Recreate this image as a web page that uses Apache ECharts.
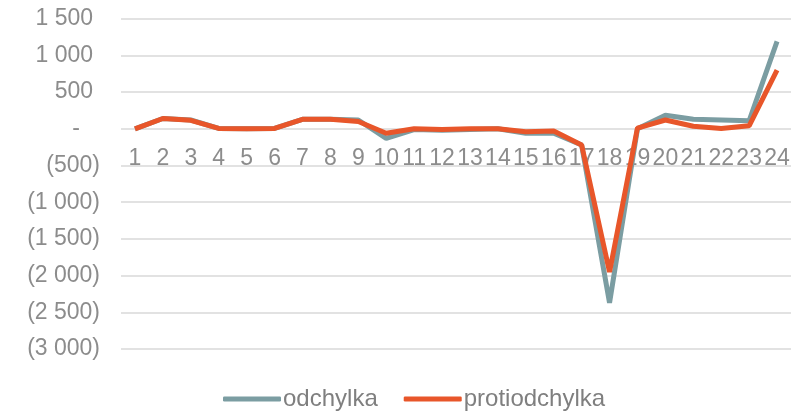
<!DOCTYPE html>
<html>
<head>
<meta charset="utf-8">
<script src="https://cdn.jsdelivr.net/npm/echarts@6/dist/echarts.min.js"></script>
<style>
html,body{margin:0;padding:0;background:#fff;}
#chart{width:799px;height:413px;}
</style>
</head>
<body>
<div id="chart"></div>
<script>
var categories = ['1','2','3','4','5','6','7','8','9','10','11','12','13','14','15','16','17','18','19','20','21','22','23','24'];
var odchylka = [0, 140, 120, 5, 0, 5, 130, 130, 120, -130, -10, -20, -10, 0, -60, -60, -220, -2370, 0, 185, 130, 120, 110, 1190];
var protiodchylka = [0, 140, 115, 5, 0, 5, 130, 130, 100, -60, 0, -10, 0, 0, -40, -30, -220, -1950, 10, 120, 35, 5, 40, 800];
var seriesNames = ['odchylka', 'protiodchylka'];
var colors = ['#7b9da2', '#e8562a'];
var yMin = -3000, yMax = 1500;

function fmt(v) {
  if (v === 0) return '{z|-}';
  var a = Math.abs(v);
  var s = String(a).replace(/\B(?=(\d{3})+(?!\d))/g, ' ');
  return v < 0 ? '(' + s + ')' : '{p|' + s + '}';
}

var gridTop = 18.7, gridBottom = 64, H = 413;
var plotH = H - gridTop - gridBottom;
var zeroOffset = -plotH * (0 - yMin) / (yMax - yMin);

var chart = echarts.init(document.getElementById('chart'));
var font = '"Liberation Sans", Arial, sans-serif';
chart.setOption({
  animation: false,
  color: colors,
  textStyle: { fontFamily: font },
  grid: { left: 121, right: 8, top: gridTop, bottom: gridBottom, containLabel: false },
  legend: {
    left: 218,
    bottom: -3,
    itemGap: 26,
    itemWidth: 58,
    itemHeight: 5,
    icon: 'roundRect',
    textStyle: { color: '#7f7f7f', fontSize: 24, fontFamily: font, padding: [0, 0, 0, -3] },
    data: seriesNames
  },
  xAxis: {
    type: 'category',
    data: categories,
    boundaryGap: true,
    position: 'bottom',
    offset: zeroOffset,
    z: 0,
    axisLine: { show: false, onZero: false },
    axisTick: { show: false },
    axisLabel: { interval: 0, color: '#8c8c8c', fontSize: 23, margin: 18, fontFamily: font }
  },
  yAxis: {
    type: 'value',
    min: yMin,
    max: yMax,
    interval: 500,
    axisLine: { show: false },
    axisTick: { show: false },
    splitLine: { lineStyle: { color: '#d9d9d9', width: 1.5 } },
    axisLabel: {
      color: '#8c8c8c', fontSize: 23, margin: 21, formatter: fmt, fontFamily: font,
      rich: {
        p: { color: '#8c8c8c', fontSize: 23, fontFamily: font, padding: [0, 7, 0, 0] },
        z: { color: '#8c8c8c', fontSize: 23, fontFamily: font, padding: [0, 20, 0, 0] }
      }
    }
  },
  series: [
    { name: seriesNames[0], type: 'line', z: 3, data: odchylka, symbol: 'none', lineStyle: { width: 5, color: colors[0] }, itemStyle: { color: colors[0] } },
    { name: seriesNames[1], type: 'line', z: 4, data: protiodchylka, symbol: 'none', lineStyle: { width: 5, color: colors[1] }, itemStyle: { color: colors[1] } }
  ]
});
</script>
</body>
</html>
